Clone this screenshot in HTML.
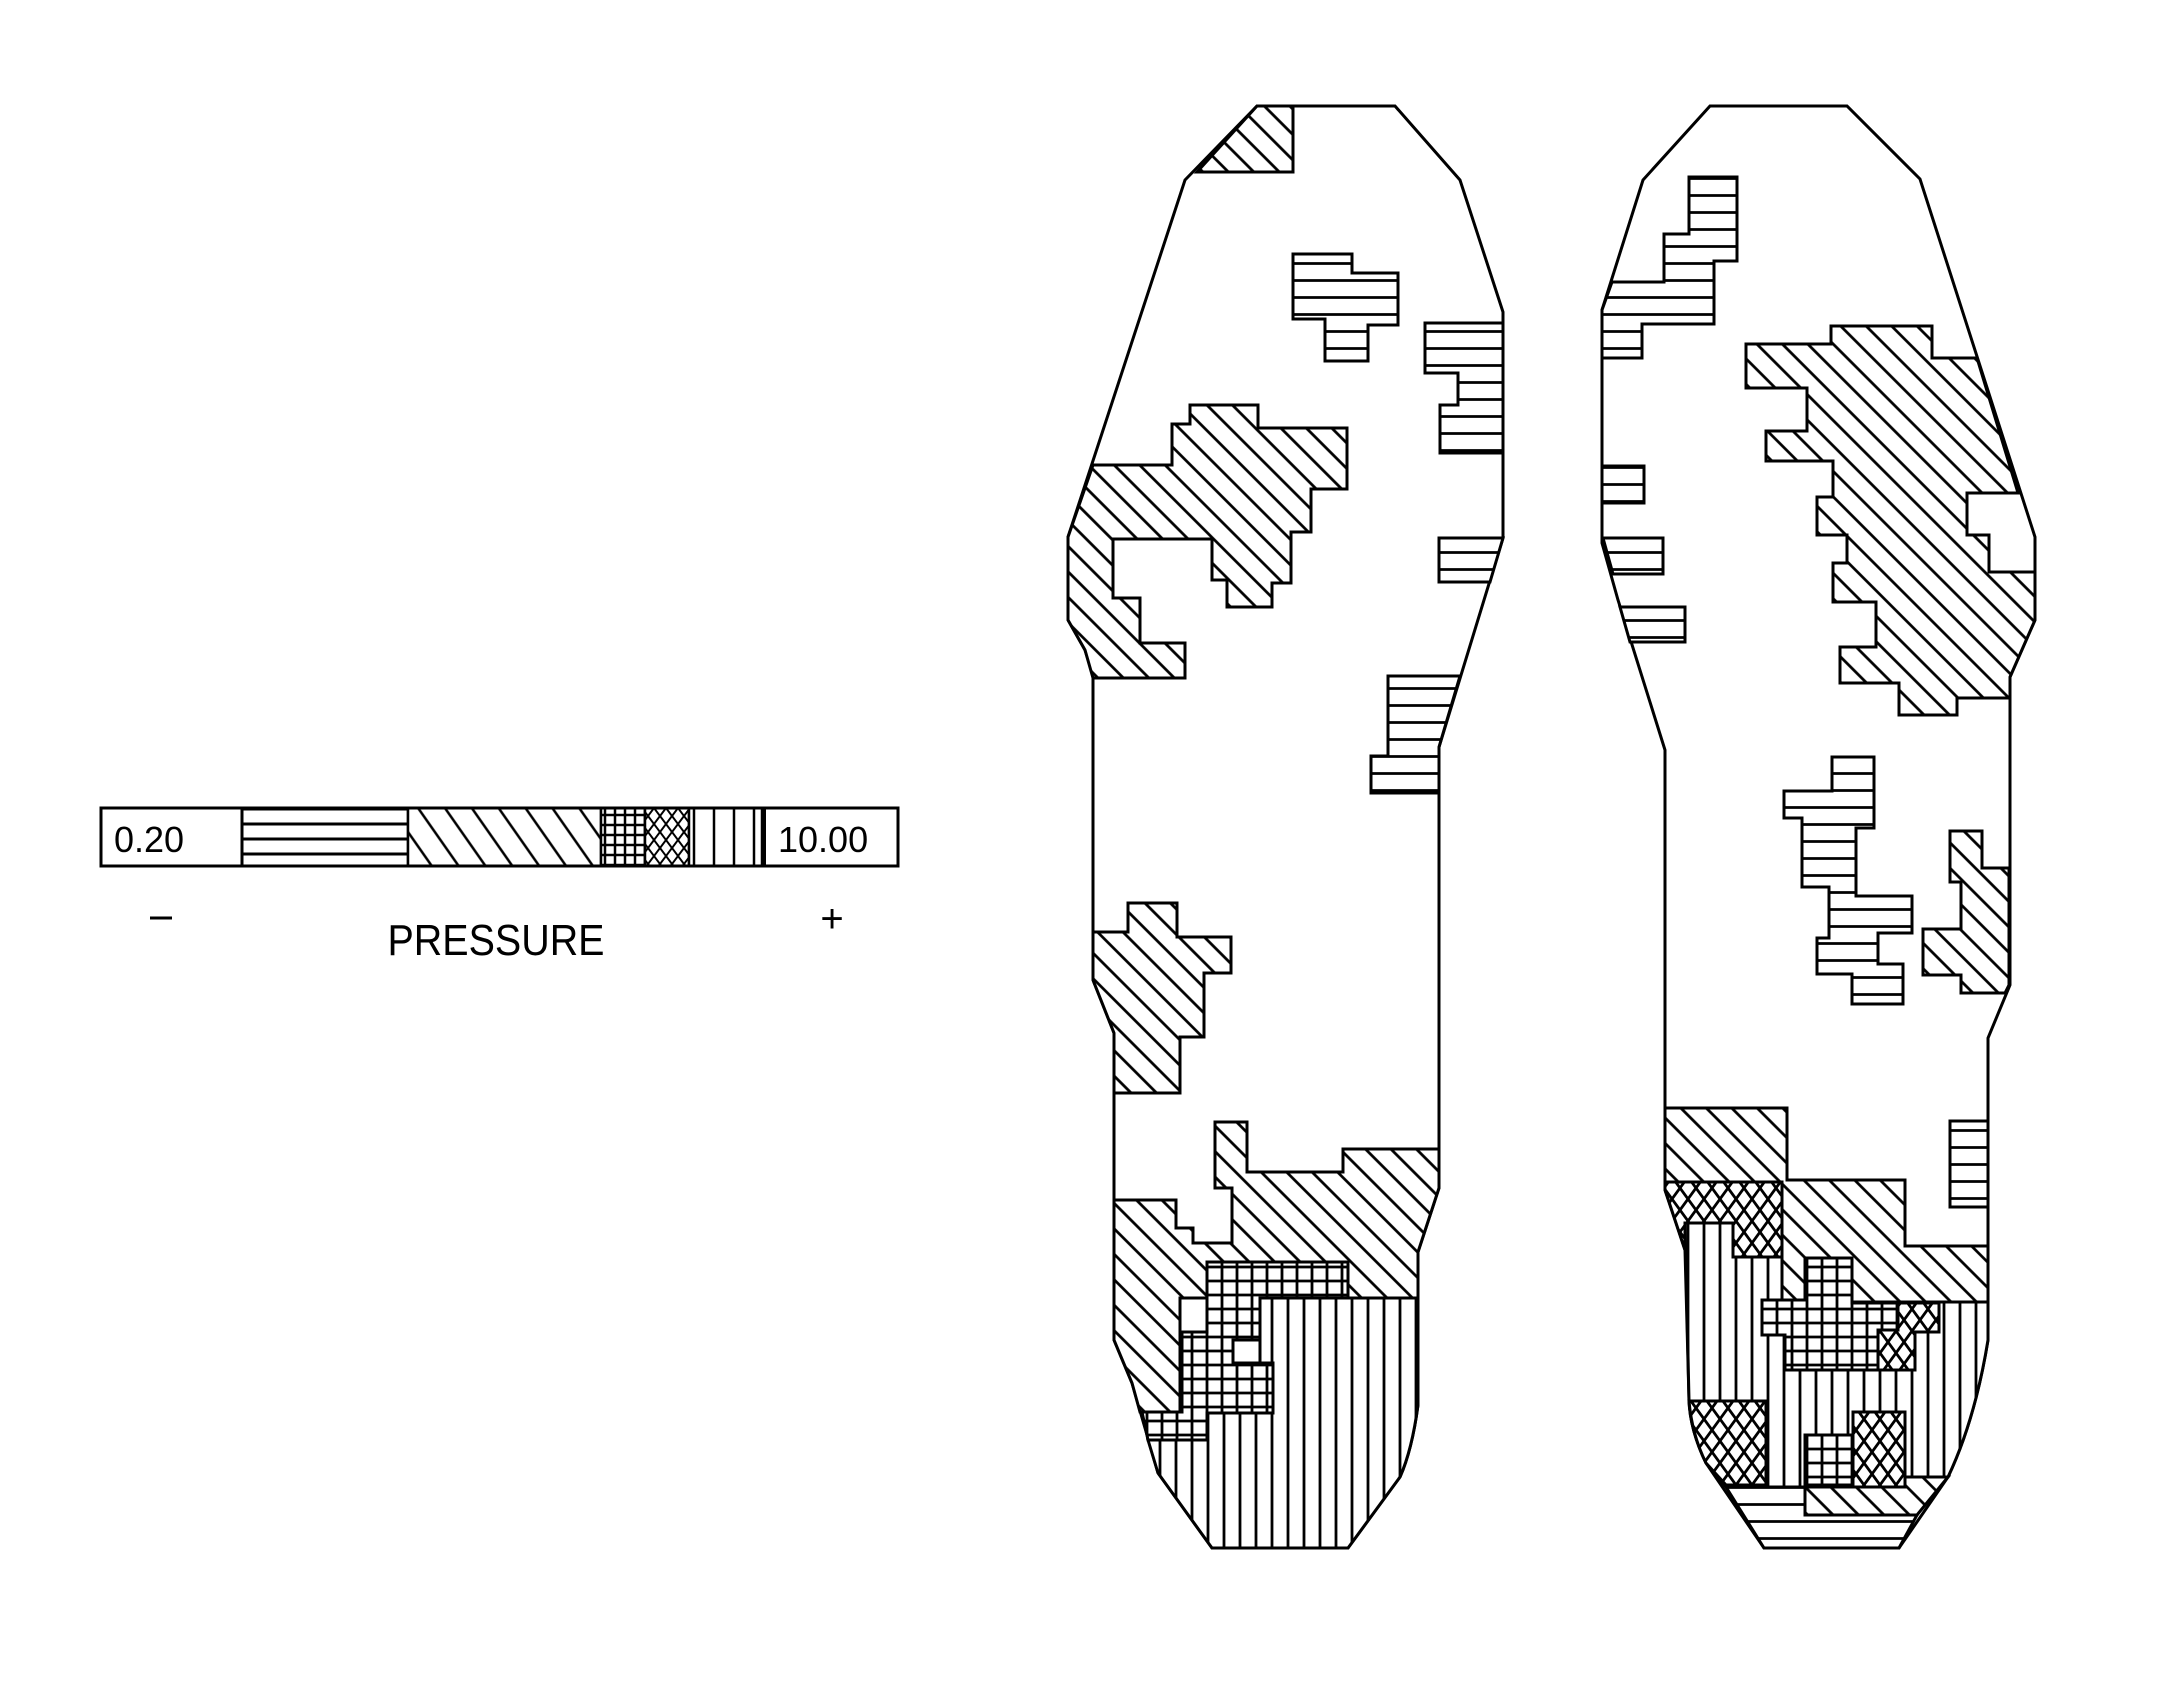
<!DOCTYPE html>
<html><head><style>body{margin:0;background:#fff}svg{display:block}</style></head><body>
<svg width="2179" height="1686" viewBox="0 0 2179 1686" xmlns="http://www.w3.org/2000/svg">
<defs>
<pattern id="hz" patternUnits="userSpaceOnUse" width="20" height="17"><rect width="20" height="17" fill="#fff"/><line x1="0" y1="8.5" x2="20" y2="8.5" stroke="#000" stroke-width="2.8"/></pattern>
<pattern id="vt" patternUnits="userSpaceOnUse" width="16" height="20"><rect width="16" height="20" fill="#fff"/><line x1="8" y1="0" x2="8" y2="20" stroke="#000" stroke-width="2.8"/></pattern>
<pattern id="dg" patternUnits="userSpaceOnUse" width="18" height="18" patternTransform="rotate(45)"><rect width="18" height="18" fill="#fff"/><line x1="0" y1="9" x2="18" y2="9" stroke="#000" stroke-width="2.8"/></pattern>
<pattern id="gr" patternUnits="userSpaceOnUse" width="15" height="14"><rect width="15" height="14" fill="#fff"/><path d="M7 0V14M0 7H15" stroke="#000" stroke-width="2.8"/></pattern>
<pattern id="cx" patternUnits="userSpaceOnUse" width="16" height="22"><rect width="16" height="22" fill="#fff"/><path d="M0 0L16 22M16 0L0 22" stroke="#000" stroke-width="2.8"/></pattern>
<pattern id="ldg" patternUnits="userSpaceOnUse" width="22" height="22" patternTransform="rotate(55)"><rect width="22" height="22" fill="#fff"/><line x1="0" y1="11" x2="22" y2="11" stroke="#000" stroke-width="2.5"/></pattern>
<pattern id="lhz" patternUnits="userSpaceOnUse" width="20" height="15" y="7"><rect width="20" height="15" fill="#fff"/><line x1="0" y1="7" x2="20" y2="7" stroke="#000" stroke-width="3"/></pattern>
<pattern id="lvt" patternUnits="userSpaceOnUse" width="20" height="20" x="4"><rect width="20" height="20" fill="#fff"/><line x1="10" y1="0" x2="10" y2="20" stroke="#000" stroke-width="2.5"/></pattern>
<pattern id="lgr" patternUnits="userSpaceOnUse" width="10" height="10"><rect width="10" height="10" fill="#fff"/><path d="M5 0V10M0 5H10" stroke="#000" stroke-width="2.5"/></pattern>
<pattern id="lcx" patternUnits="userSpaceOnUse" width="12" height="16"><rect width="12" height="16" fill="#fff"/><path d="M0 0L12 16M12 0L0 16" stroke="#000" stroke-width="2"/></pattern>
</defs>

<!-- legend -->
<g stroke="#000" stroke-width="2.5">
<rect x="242" y="808" width="166" height="58" fill="url(#lhz)"/>
<rect x="408" y="808" width="193" height="58" fill="url(#ldg)"/>
<rect x="601" y="808" width="44" height="58" fill="url(#lgr)"/>
<rect x="645" y="808" width="44" height="58" fill="url(#lcx)"/>
<rect x="689" y="808" width="73" height="58" fill="url(#lvt)"/>
<rect x="101" y="808" width="797" height="58" fill="none" stroke-width="3"/>
<line x1="242" y1="808" x2="242" y2="866" stroke-width="3"/>
<line x1="764" y1="808" x2="764" y2="866" stroke-width="4"/>
</g>
<g font-family="Liberation Sans, sans-serif" fill="#000">
<text x="114" y="852" font-size="36">0.20</text>
<text x="778" y="852" font-size="36">10.00</text>
<text x="496" y="955" font-size="44" text-anchor="middle" textLength="217" lengthAdjust="spacingAndGlyphs">PRESSURE</text>
<text x="832" y="932" font-size="40" text-anchor="middle">+</text>
</g>
<line x1="150" y1="918" x2="172" y2="918" stroke="#000" stroke-width="3"/>

<g stroke="#000" stroke-width="3" stroke-linejoin="miter">
<!-- LEFT FOOT -->
<path d="M1257,106 L1395,106 L1460,180 L1503,312 L1503,538 L1439,747 L1439,1188 L1418,1252 L1418,1405 Q1412,1450 1400,1477 L1348,1548 L1212,1548 L1158,1473 L1132,1383 L1114,1340 L1114,1033 L1093,980 L1093,675 L1085,650 L1068,620 L1068,537 L1185,180 Z" fill="#fff"/>
<polygon points="1197,172 1257,106 1293,106 1293,172" fill="url(#dg)"/>
<polygon points="1293,254 1352,254 1352,273 1398,273 1398,325 1368,325 1368,361 1325,361 1325,319 1293,319" fill="url(#hz)"/>
<polygon points="1425,323 1503,323 1503,453 1440,453 1440,405 1458,405 1458,373 1425,373" fill="url(#hz)"/>
<polygon points="1439,538 1503,538 1490,582 1439,582" fill="url(#hz)"/>
<polygon points="1093,465 1172,465 1172,424 1190,424 1190,405 1258,405 1258,428 1347,428 1347,489 1311,489 1311,532 1291,532 1291,583 1272,583 1272,607 1227,607 1227,580 1212,580 1212,539 1113,539 1113,598 1140,598 1140,643 1185,643 1185,678 1093,678 1085,650 1068,620 1068,537" fill="url(#dg)"/>
<polygon points="1388,676 1460,676 1439,747 1439,793 1371,793 1371,756 1388,756" fill="url(#hz)"/>
<polygon points="1128,903 1177,903 1177,937 1231,937 1231,973 1204,973 1204,1037 1180,1037 1180,1093 1114,1093 1114,1033 1093,980 1093,932 1128,932" fill="url(#dg)"/>
<polygon points="1215,1122 1247,1122 1247,1172 1343,1172 1343,1149 1439,1149 1439,1188 1418,1252 1418,1298 1180,1298 1180,1412 1140,1412 1132,1383 1114,1340 1114,1200 1176,1200 1176,1228 1193,1228 1193,1243 1232,1243 1232,1188 1215,1188" fill="url(#dg)"/>
<path d="M1260,1298 L1418,1298 L1418,1405 Q1412,1450 1400,1477 L1348,1548 L1212,1548 L1158,1473 L1148,1440 L1207,1440 L1207,1413 L1273,1413 L1273,1363 L1260,1363 Z" fill="url(#vt)"/>
<polygon points="1207,1262 1348,1262 1348,1298 1260,1298 1260,1340 1233,1340 1233,1363 1273,1363 1273,1413 1207,1413 1207,1440 1148,1440 1142,1412 1182,1412 1182,1332 1207,1332" fill="url(#gr)"/>
<rect x="1233" y="1340" width="27" height="23" fill="#fff"/>

<!-- RIGHT FOOT -->
<path d="M1710,106 L1847,106 L1920,179 L2035,537 L2035,620 L2010,677 L2010,985 L1988,1038 L1988,1340 Q1975,1420 1948,1477 L1899,1548 L1764,1548 L1706,1463 Q1690,1430 1689,1400 L1685,1250 L1665,1190 L1665,750 L1618,600 L1602,543 L1602,310 L1643,180 Z" fill="#fff"/>
<polygon points="1689,177 1737,177 1737,261 1714,261 1714,324 1642,324 1642,358 1602,358 1602,310 1612,282 1664,282 1664,234 1689,234" fill="url(#hz)"/>
<polygon points="1602,466 1644,466 1644,503 1602,503" fill="url(#hz)"/>
<polygon points="1603,538 1663,538 1663,574 1613,574" fill="url(#hz)"/>
<polygon points="1620,607 1685,607 1685,642 1630,642" fill="url(#hz)"/>
<polygon points="1746,344 1831,344 1831,326 1932,326 1932,358 1977,358 2018,493 1967,493 1967,535 1989,535 1989,572 2035,572 2035,620 2010,677 2010,698 1957,698 1957,715 1899,715 1899,683 1840,683 1840,647 1876,647 1876,602 1833,602 1833,563 1847,563 1847,535 1817,535 1817,497 1833,497 1833,461 1766,461 1766,431 1807,431 1807,388 1746,388" fill="url(#dg)"/>
<polygon points="1832,757 1874,757 1874,828 1856,828 1856,896 1912,896 1912,933 1878,933 1878,964 1903,964 1903,1004 1852,1004 1852,974 1817,974 1817,938 1829,938 1829,887 1802,887 1802,818 1784,818 1784,791 1832,791" fill="url(#hz)"/>
<polygon points="1950,831 1982,831 1982,868 2009,868 2009,985 2005,993 1961,993 1961,975 1923,975 1923,929 1961,929 1961,882 1950,882" fill="url(#dg)"/>
<polygon points="1950,1121 1988,1121 1988,1207 1950,1207" fill="url(#hz)"/>
<polygon points="1665,1108 1787,1108 1787,1180 1905,1180 1905,1246 1988,1246 1988,1302 1762,1302 1762,1182 1665,1182" fill="url(#dg)"/>
<path d="M1685,1223 L1733,1223 L1733,1257 L1782,1257 L1782,1302 L1988,1302 L1988,1340 Q1975,1420 1948,1477 L1905,1477 L1905,1487 L1726,1487 L1706,1463 Q1690,1430 1689,1400 Z" fill="url(#vt)"/>
<polygon points="1665,1182 1782,1182 1782,1257 1733,1257 1733,1223 1685,1223 1685,1250 1665,1190" fill="url(#cx)"/>
<polygon points="1762,1300 1805,1300 1805,1258 1852,1258 1852,1303 1898,1303 1898,1330 1878,1330 1878,1370 1785,1370 1785,1335 1762,1335" fill="url(#gr)"/>
<polygon points="1898,1303 1939,1303 1939,1332 1915,1332 1915,1370 1878,1370 1878,1330 1898,1330" fill="url(#cx)"/>
<path d="M1689,1401 L1766,1401 L1766,1485 L1726,1485 L1706,1463 Q1692,1435 1689,1401 Z" fill="url(#cx)"/>
<polygon points="1805,1435 1853,1435 1853,1485 1805,1485" fill="url(#gr)"/>
<polygon points="1853,1412 1905,1412 1905,1487 1853,1487" fill="url(#cx)"/>
<polygon points="1805,1487 1905,1487 1905,1477 1948,1477 1917,1515 1805,1515" fill="url(#dg)"/>
<polygon points="1726,1487 1805,1487 1805,1515 1917,1515 1899,1548 1764,1548" fill="url(#hz)"/>
</g>
</svg>
</body></html>
